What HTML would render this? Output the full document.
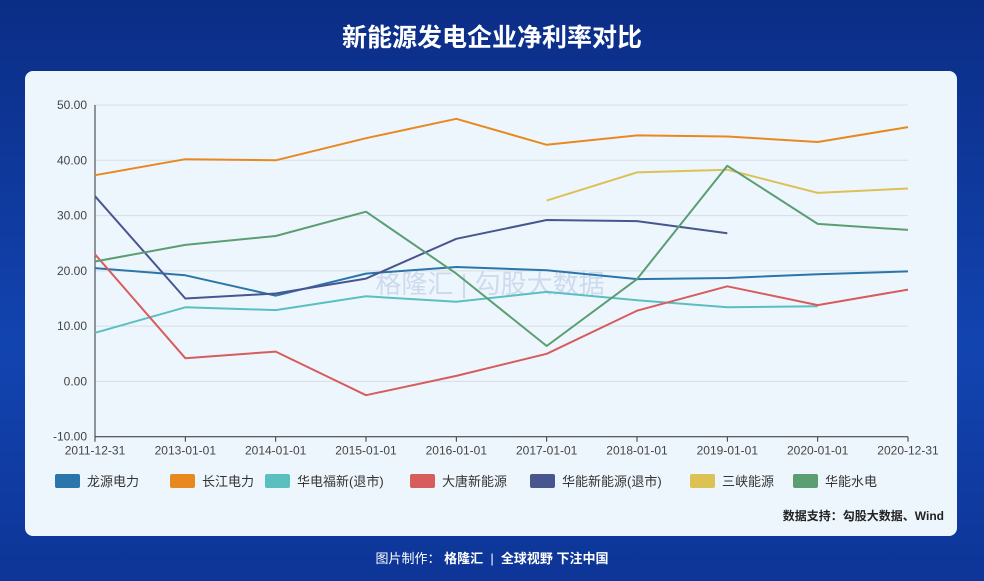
<!DOCTYPE html>
<html><head><meta charset="utf-8"><style>
body{margin:0;width:984px;height:581px;overflow:hidden;background:linear-gradient(180deg,#0b2d86 0%,#1244b0 60%,#0e3597 100%);font-family:"Liberation Sans","Noto Sans CJK SC",sans-serif;}
#title{position:absolute;left:0;top:18px;width:984px;text-align:center;color:#fff;font-size:25px;font-weight:bold;}
#card{position:absolute;left:25px;top:71px;width:932px;height:465px;background:#eef6fd;border-radius:8px;}
#footer{position:absolute;left:0;top:548px;width:984px;text-align:center;color:#fff;font-size:13px;}
</style></head><body>
<div id="title">新能源发电企业净利率对比</div>
<div id="card"></div>
<svg id="chart" width="984" height="581" style="position:absolute;left:0;top:0"></svg>
<div id="footer">图片制作： <b>格隆汇</b> &nbsp;|&nbsp; <b>全球视野 下注中国</b></div>
<script>
const categories=["2011-12-31","2013-01-01","2014-01-01","2015-01-01","2016-01-01","2017-01-01","2018-01-01","2019-01-01","2020-01-01","2020-12-31"];
const yTicks=[-10,0,10,20,30,40,50];
const seriesNames=["龙源电力","长江电力","华电福新(退市)","大唐新能源","华能新能源(退市)","三峡能源","华能水电"];
const seriesColors=["#2a76aa","#e8891f","#5bbfc0","#d75c5c","#48568f","#dcc155","#5a9e72"];
const longyuan=[20.5,19.2,15.5,19.5,20.7,20.1,18.5,18.7,19.4,19.9];
const changjiang=[37.3,40.2,40.0,44.0,47.5,42.8,44.5,44.3,43.3,46.0];
const huadian=[8.8,13.4,12.9,15.4,14.4,16.2,14.7,13.4,13.6,null];
const datang=[23.0,4.2,5.4,-2.5,1.0,5.0,12.8,17.2,13.8,16.6];
const huanengNew=[33.5,15.0,15.9,18.6,25.8,29.2,29.0,26.8,null,null];
const sanxia=[null,null,null,null,null,32.7,37.8,38.3,34.1,34.9];
const hydro=[21.7,24.7,26.3,30.7,19.5,6.4,18.5,39.0,28.5,27.4];
const allSeries=[longyuan,changjiang,huadian,datang,huanengNew,sanxia,hydro];

const svg=document.getElementById('chart');
const NS="http://www.w3.org/2000/svg";
const x0=95,x1=908,yTop=105,yBot=436.7,vMin=-10,vMax=50;
function xs(i){return x0+(x1-x0)*i/(categories.length-1);}
function ys(v){return yBot-(v-vMin)/(vMax-vMin)*(yBot-yTop);}
function mk(t,a){const e=document.createElementNS(NS,t);for(const k in a)e.setAttribute(k,a[k]);svg.appendChild(e);return e;}

yTicks.forEach(v=>{
  const g=mk('line',{x1:x0,x2:x1,y1:ys(v),y2:ys(v),stroke:'#d6dde6','stroke-width':1});
  
  
  const t=mk('text',{x:x0-8,y:ys(v)+4,'text-anchor':'end','font-size':12,fill:'#444'});
  t.textContent=v.toFixed(2);
  
  
});
const ya=mk('line',{x1:x0,x2:x0,y1:yTop,y2:yBot,stroke:'#333','stroke-width':1});


const xa=mk('line',{x1:x0,x2:x1,y1:yBot,y2:yBot,stroke:'#333','stroke-width':1});


categories.forEach((c,i)=>{
  const tk=mk('line',{x1:xs(i),x2:xs(i),y1:yBot,y2:yBot+5,stroke:'#333'});
  
  
  const t=mk('text',{x:xs(i),y:yBot+18,'text-anchor':'middle','font-size':12,fill:'#444'});
  t.textContent=c;
  
  
});
const wm=mk('text',{x:490,y:293,'text-anchor':'middle','font-size':26,fill:'#c5d4ea',opacity:0.8});
wm.textContent='格隆汇 | 勾股大数据';



allSeries.forEach((s,k)=>{
  let d='';let pen=false;
  s.forEach((v,i)=>{if(v==null){pen=false;return;}d+=(pen?'L':'M')+xs(i).toFixed(1)+' '+ys(v).toFixed(1)+' ';pen=true;});
  const p=mk('path',{d:d,fill:'none',stroke:seriesColors[k],'stroke-width':2,'stroke-linejoin':'round'});
  
  
});

const legX=[55,170,265,410,530,690,793];
seriesNames.forEach((n,k)=>{
  const r=mk('rect',{x:legX[k],y:474,width:25,height:14,rx:2,fill:seriesColors[k]});
  
  
  const t=mk('text',{x:legX[k]+32,y:486,'font-size':13,fill:'#333'});
  t.textContent=n;
  
  
});
const src=mk('text',{x:944,y:520,'text-anchor':'end','font-size':12,'font-weight':'bold',fill:'#222'});
src.textContent='数据支持：勾股大数据、Wind';


</script>
</body></html>
